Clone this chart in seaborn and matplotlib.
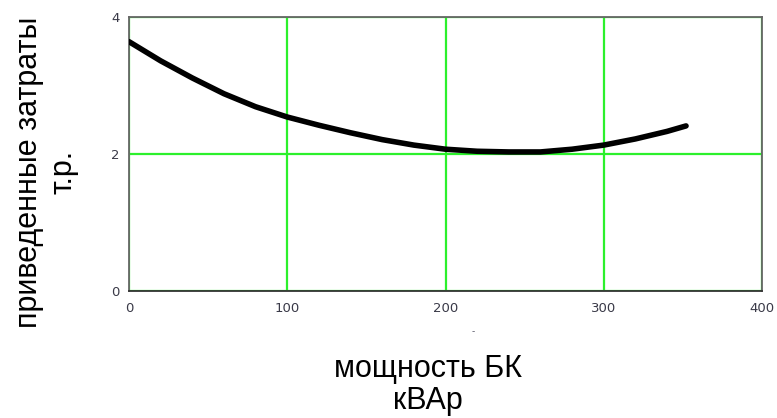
import matplotlib
matplotlib.use("Agg")
import matplotlib.pyplot as plt
import seaborn as sns
import pandas as pd

# data
power_kvar = [0, 20, 40, 60, 80, 100, 120, 140, 160, 180, 200, 220, 240, 260, 280, 300, 320, 340, 352]
cost = [3.64, 3.36, 3.11, 2.88, 2.69, 2.54, 2.42, 2.31, 2.21, 2.13, 2.07, 2.04, 2.03, 2.03,
        2.07, 2.13, 2.22, 2.33, 2.41]
x_ticks = [0, 100, 200, 300, 400]
y_ticks = [0, 2, 4]

sns.set_theme(style="white")
plt.rcParams['font.family'] = ['Liberation Sans', 'DejaVu Sans']

df = pd.DataFrame({"x": power_kvar, "y": cost})

fig = plt.figure(figsize=(7.77, 4.18), dpi=100)
ax = fig.add_axes([129/777, 1 - 291/418, (762-129)/777, (291-17)/418])

sns.lineplot(data=df, x="x", y="y", ax=ax, color="black", linewidth=4,
             zorder=3, solid_capstyle="round", solid_joinstyle="round")

ax.set_xlim(0, 400)
ax.set_ylim(0, 4)
ax.set_xticks(x_ticks)
ax.set_yticks(y_ticks)
tick_font = dict(fontsize=9.5, color="#3a3a48", family=["DejaVu Sans"])
ax.set_xticklabels([str(v) for v in x_ticks], **tick_font)
ax.set_yticklabels([str(v) for v in y_ticks], **tick_font)
ax.tick_params(axis="x", length=0, pad=8)
ax.tick_params(axis="y", length=0, pad=7)
ax.grid(True, color="#2cf02c", linewidth=1.6, zorder=1)
ax.set_axisbelow(True)
for name, s in ax.spines.items():
    s.set_visible(True)
    s.set_linewidth(1.3)
    s.set_color("#666666")
ax.spines["bottom"].set_color("#333333")

ax.set_xlabel("")
ax.set_ylabel("")
fig.text(46/777, 1 - 172/418, "приведенные затраты\nт.р.", rotation=90,
         ha="center", va="center", fontsize=22, linespacing=1.2, color="black")
fig.text(428/777, 1 - 385/418, "мощность БК\nкВАр", ha="center", va="center",
         fontsize=22, linespacing=1.1, color="black")
fig.text(473/777, 1 - 331/418, "-", ha="center", va="center", fontsize=7, color="#555566")

fig.savefig("out.png", dpi=100)
